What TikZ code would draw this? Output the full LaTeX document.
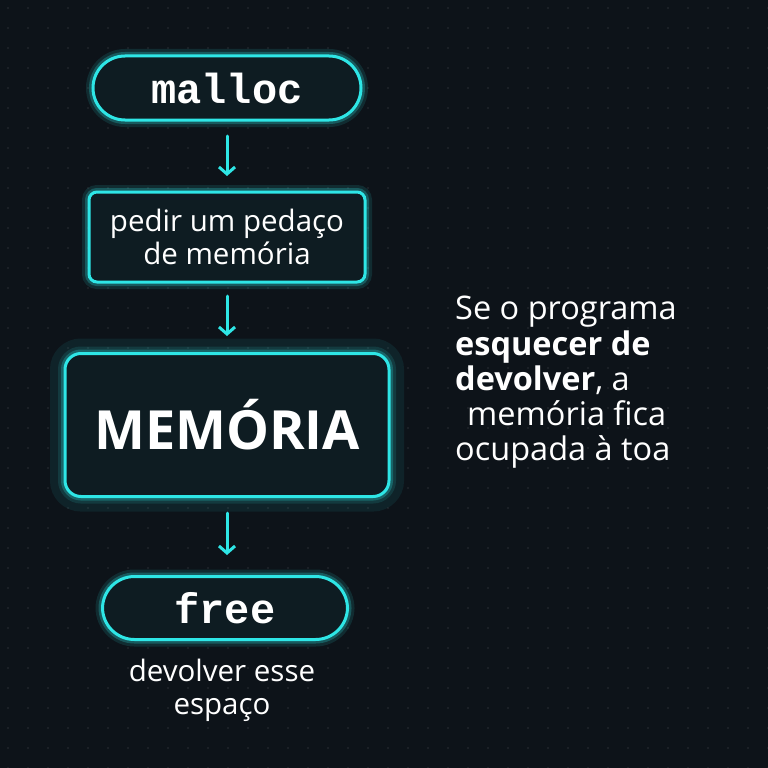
\documentclass[tikz,border=0pt]{standalone}
\usepackage{fontspec}
\setmainfont{Open Sans}
\newfontfamily\monof{Liberation Mono}
\usetikzlibrary{arrows.meta}
\definecolor{bg}{HTML}{0D1319}
\definecolor{cy}{HTML}{2EE6E6}
\definecolor{fillc}{HTML}{0E1C22}
\tikzset{
 glowbox/.style={draw=cy,line width=3pt,fill=fillc,
   preaction={draw=cy,line width=14pt,opacity=0.12},
   preaction={draw=cy,line width=8pt,opacity=0.25}},
 arr/.style={draw=cy,line width=3pt,-{Straight Barb[length=7pt,width=16pt]},line cap=round},
 lbl/.style={text=white,align=center}
}
\begin{document}
\begin{tikzpicture}[x=1pt,y=-1pt]
\fill[bg] (0,0) rectangle (768,768);
\useasboundingbox (0,0) rectangle (768,768);
\foreach \i in {0,...,38}{\foreach \j in {0,...,38}{\fill[white,opacity=0.12] (\i*20+8,\j*20+8) circle (0.8);}}
\node[glowbox,rounded corners=32pt,minimum width=268pt,minimum height=64pt] (m) at (227,88) {};
\node[lbl] at (m) {\monof\bfseries\fontsize{42}{42}\selectfont malloc};
\node[glowbox,rounded corners=8pt,minimum width=276pt,minimum height=90pt] (p) at (227,237) {};
\node[lbl,font=\fontsize{29.5}{33}\selectfont] at (p) {pedir um pedaço\\de memória};
\node[glowbox,rounded corners=16pt,minimum width=324pt,minimum height=143pt,
   preaction={draw=cy,line width=30pt,opacity=0.08}] (mem) at (227,425) {};
\node[lbl,font=\bfseries\fontsize{54}{54}\selectfont] at (mem) {MEMÓRIA};
\node[glowbox,rounded corners=32pt,minimum width=245pt,minimum height=63pt] (f) at (225,608) {};
\node[lbl] at (f) {\monof\bfseries\fontsize{42}{42}\selectfont free};
\node[lbl,font=\fontsize{29.5}{33}\selectfont] (d) at (222,690) {devolver esse\\espaço};
\draw[arr] (227,136) -- (227,176);
\draw[arr] (227,296) -- (227,336);
\draw[arr] (227,513) -- (227,555);
\node[text=white,align=left,anchor=north west,inner sep=0pt,font=\fontsize{32.5}{35.3}\selectfont] (t) at (455,296)
 {Se o programa\\\textbf{esquecer de}\\\textbf{devolver}, a\\\hspace*{12pt}memória fica\\ocupada à toa};
\end{tikzpicture}
\end{document}
